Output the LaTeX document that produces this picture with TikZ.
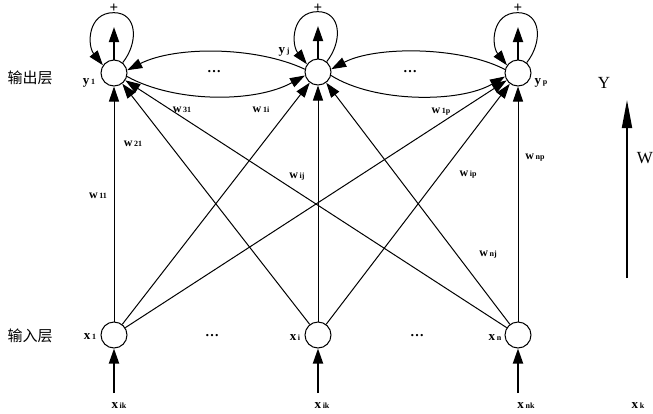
\documentclass[tikz,border=0pt]{standalone}
\usepackage{fontspec}
\setmainfont{Liberation Serif}
\newfontfamily\cjkfont{Noto Sans CJK SC}
\usetikzlibrary{arrows.meta}
\newcommand\mylab[3]{{\fontsize{#1}{#1}\selectfont\textbf{#2}}\,{\fontsize{8}{8}\selectfont\textbf{#3}}}
\begin{document}
\begin{tikzpicture}[x=1pt,y=-1pt,
  neuron/.style={circle,draw,line width=1pt,minimum size=26pt,inner sep=0pt,fill=white},
  wire/.style={line width=1pt},
  thickwire/.style={line width=1.8pt},
  big/.style={-{Triangle[length=15pt,width=10pt]}},
  lbl/.style={inner sep=0pt},
  cjk/.style={inner sep=0pt,font=\cjkfont\fontsize{15}{15}\selectfont}]
\useasboundingbox (0,0) rectangle (653,413);

% nodes
\node[neuron] (y1) at (114,73) {};
\node[neuron] (yj) at (318,72) {};
\node[neuron] (yp) at (518,73) {};
\node[neuron] (x1) at (114,335) {};
\node[neuron] (xi) at (318,335) {};
\node[neuron] (xn) at (518,335) {};

% free ends
\coordinate (o1) at (114,27);
\coordinate (oj) at (318,26);
\coordinate (op) at (518,27);
\coordinate (i1) at (114,393);
\coordinate (ii) at (318,393);
\coordinate (in) at (518,393);
\coordinate (wb) at (627,278);
\coordinate (wt) at (627,100);

% input -> output connections
\foreach \s in {x1,xi,xn}{
  \foreach \t in {y1,yj,yp}{
    \draw[wire,big] (\s) -- (\t);
  }
}

% output arrows
\draw[thickwire,big] (y1) -- (o1);
\draw[thickwire,big] (yj) -- (oj);
\draw[thickwire,big] (yp) -- (op);

% input arrows
\draw[thickwire,big] (i1) -- (x1);
\draw[thickwire,big] (ii) -- (xi);
\draw[thickwire,big] (in) -- (xn);

% self loops
\foreach \n in {y1,yj,yp}{
  \draw[wire,big] (\n.50) .. controls +(16,-20) and +(24,0) .. ++(-9,-50)
     .. controls +(-26,0) and +(-16,-20) .. (\n.145);
}

% lateral arcs
\draw[wire,big] (yj.168) .. controls (255,46) and (175,46) .. (y1.12);
\draw[wire,big] (y1.-15) .. controls (175,103) and (255,103) .. (yj.195);
\draw[wire,big] (yp.165) .. controls (460,46) and (375,46) .. (yj.12);
\draw[wire,big] (yj.-15) .. controls (375,103) and (460,103) .. (yp.195);

% W arrow
\draw[thickwire,-{Triangle[length=28pt,width=10pt]}] (wb) -- (wt);

% texts
\node[lbl,font=\bfseries\fontsize{15}{15}\selectfont] (p1) at (114,8) {+};
\node[lbl,font=\bfseries\fontsize{15}{15}\selectfont] (pj) at (318,8) {+};
\node[lbl,font=\bfseries\fontsize{15}{15}\selectfont] (pp) at (518,8) {+};

\node[cjk] (outl) at (30,78) {输出层};
\node[cjk] (inl) at (30,336) {输入层};

\node[lbl] (ly1) at (89,83) {\mylab{13}{y}{1}};
\node[lbl] (lyj) at (284,52) {\mylab{13}{y}{j}};
\node[lbl] (lyp) at (541,83) {\mylab{13}{y}{p}};
\node[lbl] (lx1) at (90,337) {\mylab{13}{x}{1}};
\node[lbl] (lxi) at (295,338) {\mylab{13}{x}{i}};
\node[lbl] (lxn) at (495,338) {\mylab{13}{x}{n}};

\node[lbl] (lxik) at (119,406) {\mylab{13}{x}{ik}};
\node[lbl] (lxjk) at (322,406) {\mylab{13}{x}{ik}};
\node[lbl] (lxnk) at (526,406) {\mylab{13}{x}{nk}};
\node[lbl] (lxk) at (638,406) {\mylab{13}{x}{k}};

\node[lbl,font=\fontsize{17}{17}\selectfont] (lY) at (604,83) {Y};
\node[lbl,font=\fontsize{17}{17}\selectfont] (lW) at (645,158) {W};

\node[lbl,font=\bfseries\fontsize{14}{14}\selectfont] (d1) at (214,72) {\dots};
\node[lbl,font=\bfseries\fontsize{14}{14}\selectfont] (d2) at (410,72) {\dots};
\node[lbl,font=\bfseries\fontsize{14}{14}\selectfont] (d3) at (212,336) {\dots};
\node[lbl,font=\bfseries\fontsize{14}{14}\selectfont] (d4) at (417,336) {\dots};

\node[lbl] (w31) at (182,110) {\mylab{12}{w}{31}};
\node[lbl] (w1i) at (261,110) {\mylab{12}{w}{1i}};
\node[lbl] (w1p) at (441,112) {\mylab{12}{w}{1p}};
\node[lbl] (w21) at (133,144) {\mylab{12}{w}{21}};
\node[lbl] (w11) at (98,196) {\mylab{12}{w}{11}};
\node[lbl] (wij) at (297,177) {\mylab{12}{w}{ij}};
\node[lbl] (wip) at (468,175) {\mylab{12}{w}{ip}};
\node[lbl] (wnp) at (535,158) {\mylab{12}{w}{np}};
\node[lbl] (wnj) at (488,255) {\mylab{12}{w}{nj}};
\end{tikzpicture}
\end{document}
